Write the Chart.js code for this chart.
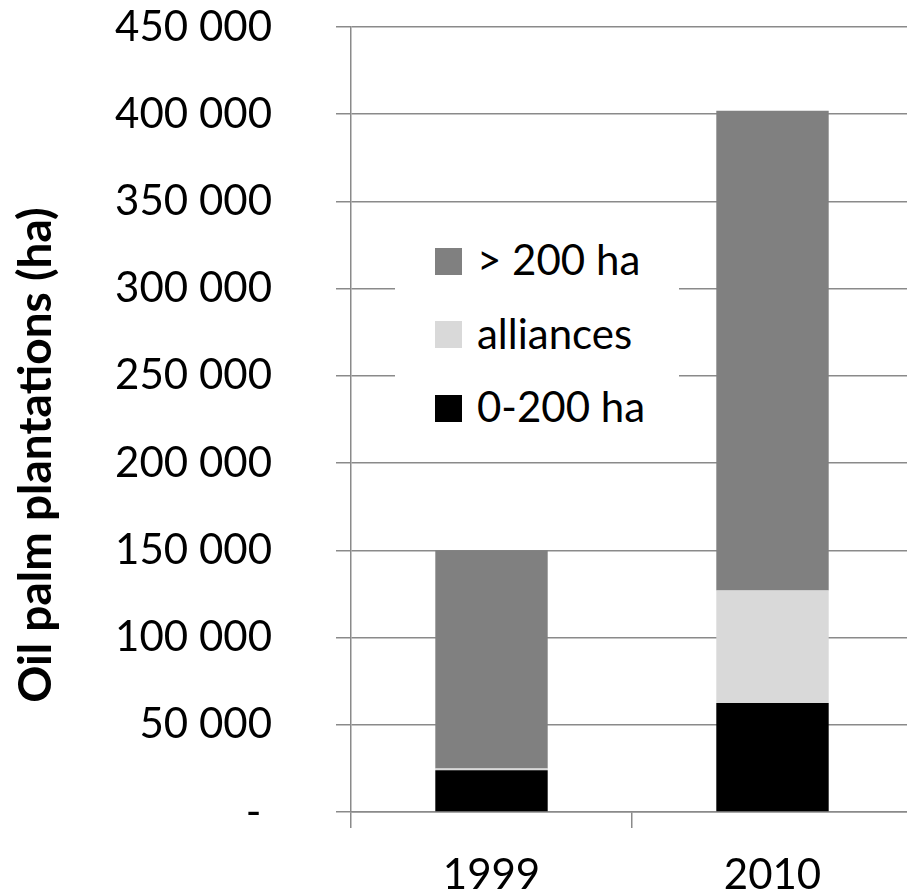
<!DOCTYPE html>
<html>
<head>
<meta charset="utf-8">
<script src="https://cdn.jsdelivr.net/npm/chart.js@4/dist/chart.umd.min.js"></script>
<style>
  html, body { margin: 0; padding: 0; background: #fff; overflow: hidden; }
  #wrap { position: relative; width: 914px; height: 894px; }
  #legend {
    position: absolute; left: 395px; top: 222px; width: 284px; height: 224px;
    background: #fff; font-family: Lato, sans-serif; font-size: 42px; color: #000;
  }
  .item { position: absolute; left: 40px; height: 50px; line-height: 50px; white-space: nowrap; }
  .swatch { display: inline-block; width: 27px; height: 27px; vertical-align: middle; margin-right: 15px; position: relative; top: -3px; }
</style>
</head>
<body>
<div id="wrap">
  <canvas id="chart" width="914" height="894"></canvas>
  <div id="legend"></div>
</div>
<script>
// Plantation area by farm size class, hectares
const years = ['1999', '2010'];
const smallFarms = [24000, 62500];      // 0-200 ha
const alliances = [1000, 64500];        // alliances
const largeFarms = [125000, 275000];    // > 200 ha

const seriesLabels = ['0-200 ha', 'alliances', '> 200 ha'];
const seriesColors = ['#000000', '#d9d9d9', '#808080'];
const axisTitle = 'Oil palm plantations (ha)';

Chart.defaults.font.family = 'Lato, sans-serif';
Chart.defaults.color = '#000';

const axisGray = '#8a8a8a';

// Rotated y-axis title, centred on the full plot height
const yTitlePlugin = {
  id: 'yTitle',
  afterDraw(chart) {
    const ctx = chart.ctx;
    ctx.save();
    ctx.translate(36, 455);
    ctx.rotate(-Math.PI / 2);
    ctx.font = 'bold 46px Lato, sans-serif';
    ctx.fillStyle = '#000';
    ctx.textAlign = 'center';
    ctx.textBaseline = 'middle';
    ctx.fillText(axisTitle, 0, 0);
    ctx.restore();
  }
};

const chart = new Chart(document.getElementById('chart'), {
  type: 'bar',
  data: {
    labels: years,
    datasets: [
      { label: seriesLabels[0], data: smallFarms, backgroundColor: seriesColors[0] },
      { label: seriesLabels[1], data: alliances, backgroundColor: seriesColors[1] },
      { label: seriesLabels[2], data: largeFarms, backgroundColor: seriesColors[2] }
    ]
  },
  options: {
    responsive: false,
    animation: false,
    layout: { padding: { top: 27, right: 1, left: 0, bottom: 0 } },
    datasets: { bar: { categoryPercentage: 1, barPercentage: 0.4, borderWidth: 0 } },
    plugins: { legend: { display: false }, tooltip: { enabled: false } },
    scales: {
      x: {
        stacked: true,
        grid: { display: true, drawOnChartArea: false, drawTicks: true, tickLength: 16, color: axisGray, lineWidth: 1.5, offset: true },
        border: { display: true, color: axisGray, width: 1.5 },
        ticks: { font: { size: 42 }, color: '#000', padding: 22 },
        afterFit(scale) { scale.height = 82; }
      },
      y: {
        stacked: true,
        min: 0,
        max: 450000,
        grid: { color: axisGray, lineWidth: 1.5, tickLength: 15, drawTicks: true },
        border: { display: true, color: axisGray, width: 1.5 },
        ticks: {
          stepSize: 50000,
          font: { size: 42 },
          color: '#000',
          padding: 64,
          callback: v => v === 0 ? '- ' : String(v).replace(/\B(?=(\d{3})+(?!\d))/g, ' ')
        },
        afterFit(scale) {
          scale.width = 351;
          scale.paddingTop = 0;
          scale.paddingBottom = 0;
        }
      }
    }
  },
  plugins: [yTitlePlugin]
});

// Legend box placed inside the plot, series listed top to bottom as stacked
const legend = document.getElementById('legend');
for (let i = seriesLabels.length - 1, row = 0; i >= 0; i--, row++) {
  const item = document.createElement('div');
  item.className = 'item';
  item.style.top = (39 + row * 73.5 - 27) + 'px';
  const sw = document.createElement('span');
  sw.className = 'swatch';
  sw.style.background = seriesColors[i];
  item.appendChild(sw);
  item.appendChild(document.createTextNode(seriesLabels[i]));
  legend.appendChild(item);
}
</script>
</body>
</html>
